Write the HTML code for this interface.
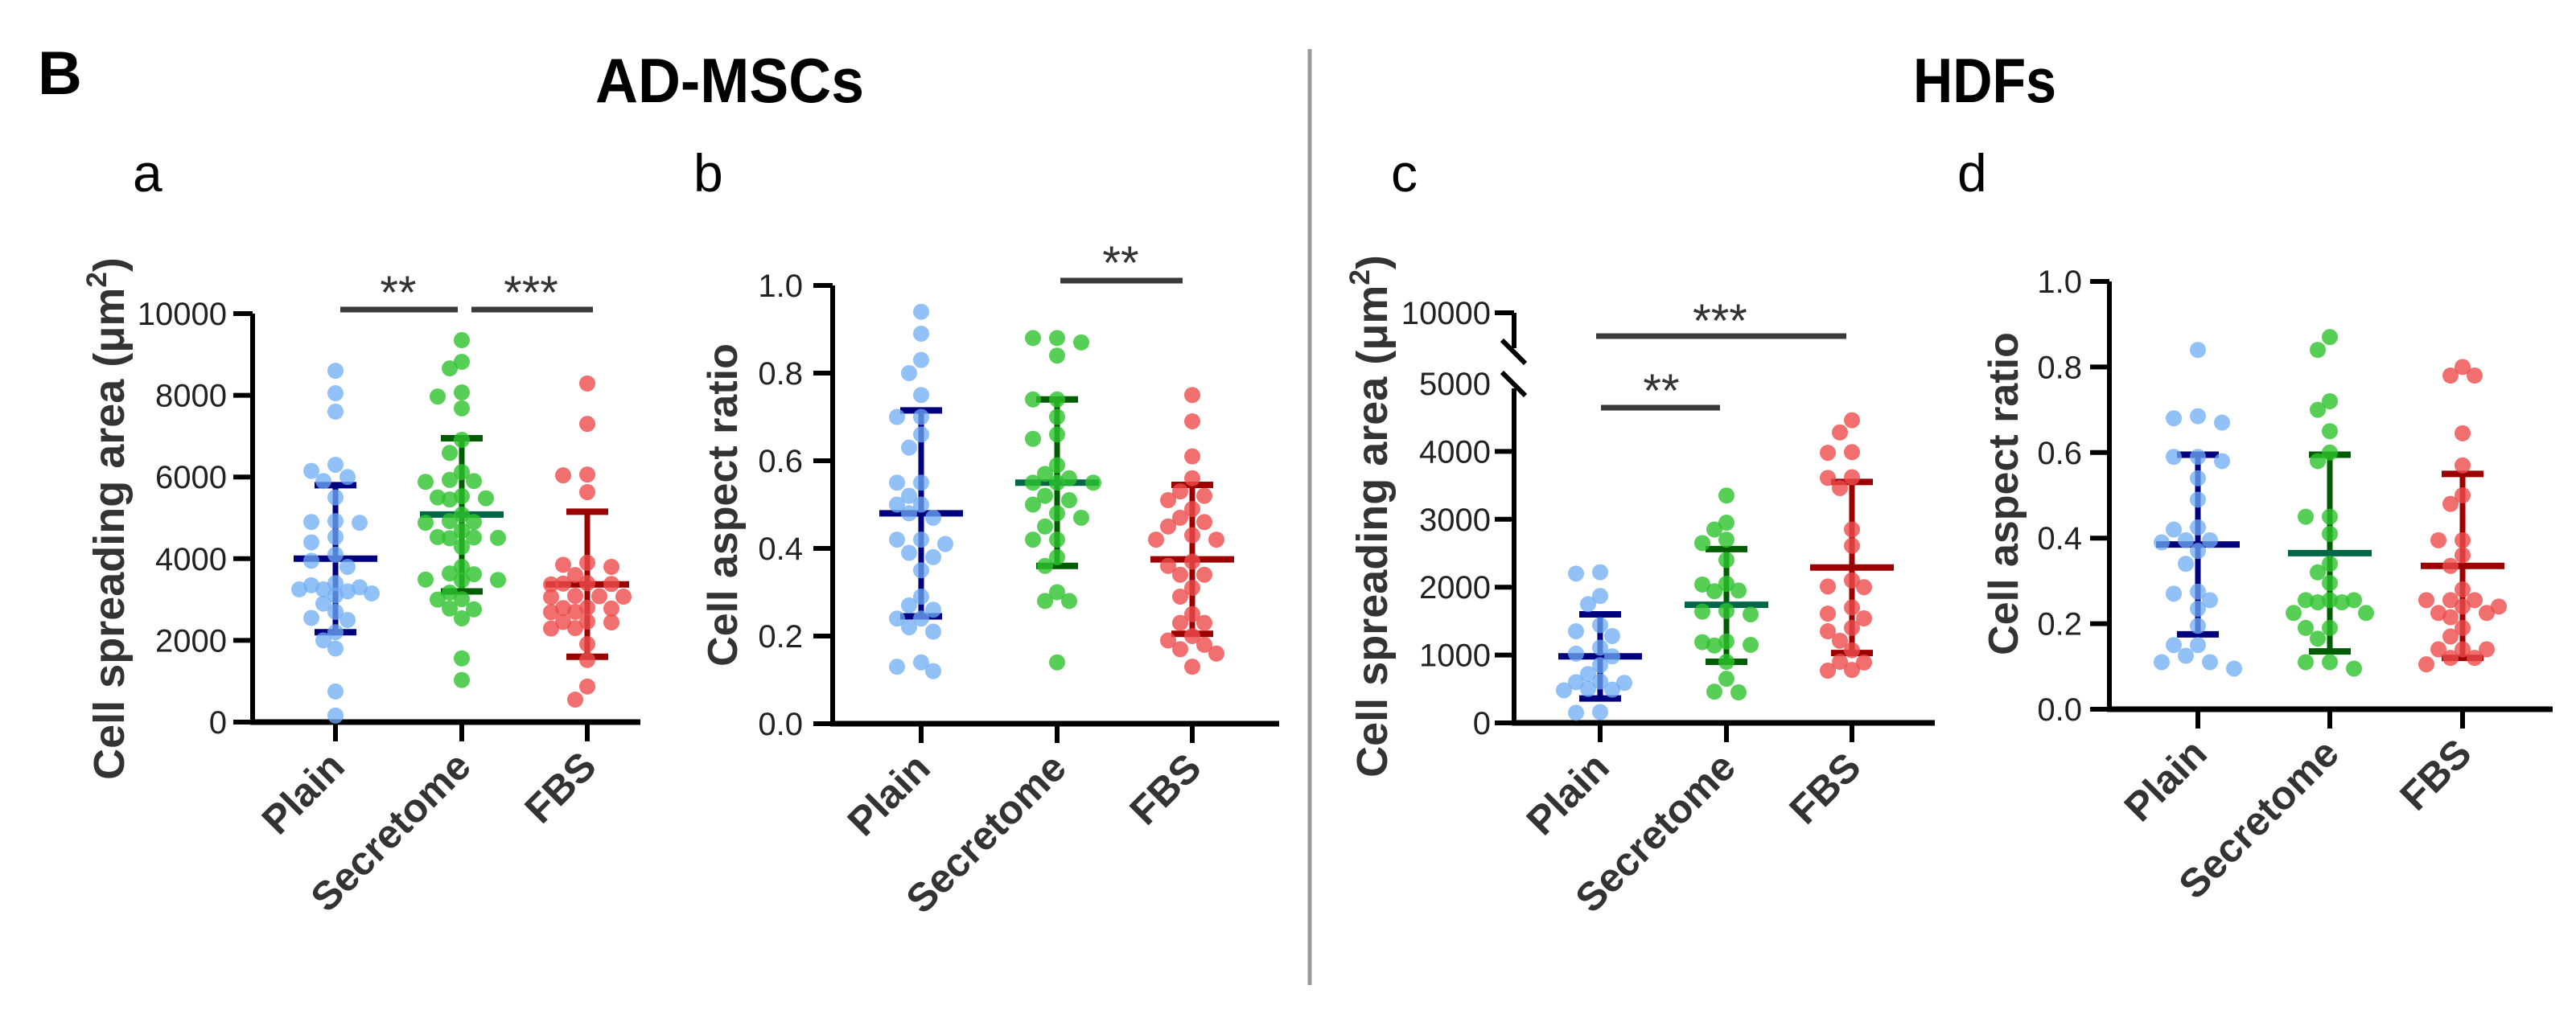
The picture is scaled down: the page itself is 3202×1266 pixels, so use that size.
<!DOCTYPE html>
<html><head><meta charset="utf-8">
<style>
html,body{margin:0;padding:0;background:#fff;}
svg{display:block;}
text{font-family:"Liberation Sans",Arial,sans-serif;}
.tick{font-family:"Liberation Sans Narrow","Liberation Sans",sans-serif;font-size:40px;fill:#222;}
</style></head>
<body>
<svg id="fig" width="3202" height="1266" viewBox="0 0 3202 1266" xmlns="http://www.w3.org/2000/svg">
<text x="47" y="117" font-size="76" font-weight="bold">B</text>
<text x="740" y="127" font-size="78" font-weight="bold" textLength="334" lengthAdjust="spacingAndGlyphs">AD-MSCs</text>
<text x="2378" y="127" font-size="78" font-weight="bold" textLength="178" lengthAdjust="spacingAndGlyphs">HDFs</text>
<line x1="1628" y1="61" x2="1628" y2="1225" stroke="#9a9a9a" stroke-width="5"/>
<text x="165" y="238" font-size="66">a</text>
<text x="862" y="238" font-size="66">b</text>
<text x="1729" y="238" font-size="66">c</text>
<text x="2433" y="238" font-size="66">d</text>
</svg>
<script>
// ---- data ----
const categories = ["Plain","Secretome","FBS"];
// Panel a: AD-MSCs spreading area
const aPlain = [8600,8050,7600,6300,6150,6000,5900,5500,4920,4900,4880,4530,4400,4100,3950,3800,3400,3350,3300,3250,3250,3200,3150,3100,2900,2700,2550,2500,2200,2000,1800,750,160];
const aSecretome = [9350,8820,8660,8070,7970,7680,6910,6590,6120,5930,5900,5880,5530,5500,5480,5450,5080,4920,4900,4880,4680,4530,4520,4510,4500,4290,3800,3640,3620,3490,3480,3470,3170,3010,3000,2780,2760,2540,1560,1030];
const aFBS = [8290,7300,6060,6040,5630,3900,3850,3800,3600,3400,3390,3380,3370,3090,3080,3070,3060,2800,2790,2780,2700,2690,2460,2450,2440,2300,2290,1910,1520,870,550];
const aMean = [4000,5080,3370];
const aUpper = [5800,6950,5150];
const aLower = [2200,3200,1600];
const aTicks = [0,2000,4000,6000,8000,10000];
// Panel b: AD-MSCs aspect ratio
const bPlain = [0.94,0.89,0.83,0.80,0.75,0.70,0.70,0.66,0.63,0.55,0.55,0.52,0.50,0.50,0.48,0.47,0.42,0.42,0.41,0.39,0.38,0.35,0.29,0.27,0.26,0.24,0.24,0.22,0.21,0.14,0.13,0.12];
const bSecretome = [0.88,0.88,0.87,0.84,0.74,0.74,0.70,0.66,0.65,0.59,0.57,0.56,0.55,0.55,0.55,0.52,0.51,0.50,0.48,0.47,0.45,0.42,0.42,0.38,0.36,0.30,0.28,0.28,0.14];
const bFBS = [0.75,0.69,0.61,0.56,0.53,0.52,0.51,0.49,0.47,0.46,0.45,0.43,0.42,0.42,0.37,0.36,0.34,0.34,0.31,0.29,0.25,0.23,0.23,0.20,0.19,0.18,0.17,0.16,0.13];
const bMean = [0.48,0.55,0.375];
const bUpper = [0.715,0.74,0.545];
const bLower = [0.245,0.36,0.205];
const bTicks = [0,0.2,0.4,0.6,0.8,1.0];
// Panel c: HDFs spreading area
const cPlain = [2220,2200,1870,1750,1440,1350,1280,1110,1020,980,850,720,610,600,590,500,490,480,160,150];
const cSecretome = [3350,2950,2850,2700,2650,2400,2050,2040,1950,1940,1650,1640,1600,1200,1190,1150,1140,900,650,460,450];
const cFBS = [4460,4280,3990,3980,3620,3610,3460,2850,2610,2100,2010,2000,1700,1610,1540,1400,1350,1210,1070,900,890,780,770];
const cMean = [980,1740,2290];
const cUpper = [1600,2560,3550];
const cLower = [360,900,1030];
const cTicks = [0,1000,2000,3000,4000,5000,10000];
// Panel d: HDFs aspect ratio
const dPlain = [0.84,0.685,0.68,0.67,0.59,0.59,0.58,0.54,0.49,0.425,0.42,0.395,0.395,0.39,0.37,0.34,0.275,0.27,0.255,0.235,0.195,0.15,0.15,0.125,0.11,0.11,0.095];
const dSecretome = [0.87,0.84,0.72,0.70,0.65,0.60,0.58,0.45,0.45,0.41,0.34,0.32,0.295,0.255,0.255,0.255,0.25,0.25,0.225,0.225,0.19,0.19,0.165,0.11,0.11,0.095];
const dFBS = [0.80,0.78,0.78,0.645,0.57,0.50,0.48,0.395,0.395,0.36,0.335,0.28,0.255,0.255,0.255,0.24,0.24,0.225,0.225,0.215,0.19,0.17,0.14,0.14,0.14,0.12,0.12,0.105];
const dMean = [0.385,0.365,0.335];
const dUpper = [0.595,0.595,0.55];
const dLower = [0.175,0.135,0.12];
const dTicks = [0,0.2,0.4,0.6,0.8,1.0];

// ---- rendering ----
const NS = "http://www.w3.org/2000/svg";
const svg = document.getElementById("fig");
function mk(tag, attrs, parent){
  const e = document.createElementNS(NS, tag);
  for (const k in attrs) e.setAttribute(k, attrs[k]);
  (parent||svg).appendChild(e);
  return e;
}
const dotFill = ["rgba(110,172,245,0.75)","rgba(45,195,45,0.8)","rgba(238,75,75,0.8)"];
const barCol = ["#00007e","#005c00","#9c0000"];
const meanCol = ["#00007e","#006648","#9c0000"];

function linScale(d0,d1,r0,r1){ return v => r0 + (v-d0)/(d1-d0)*(r1-r0); }

function panel(p){
  const g = mk("g",{});
  
  
  const y = p.y;
  if (p.broken){
    const l1 = mk("line",{x1:p.ax,y1:p.axisTop,x2:p.ax,y2:433,stroke:"#000","stroke-width":6},g);
    
    
    const l2 = mk("line",{x1:p.ax,y1:483,x2:p.ax,y2:p.axisY+3,stroke:"#000","stroke-width":6},g);
    
    
    [[423,452],[463,492]].forEach(s=>{
      const sl = mk("line",{x1:p.ax-15,y1:s[0],x2:p.ax+14,y2:s[1],stroke:"#000","stroke-width":6},g);
      
      
    });
  } else {
    const l = mk("line",{x1:p.ax,y1:p.axisTop,x2:p.ax,y2:p.axisY+3,stroke:"#000","stroke-width":6},g);
    
    
  }
  p.ticks.forEach(t=>{
    const ty = y(t);
    if (!(p.broken && t===5000)){
      const tk = mk("line",{x1:p.ax-24,y1:ty,x2:p.ax,y2:ty,stroke:"#000","stroke-width":6},g);
      
      
    }
    const lb = mk("text",{x:p.labelX,y:ty+14,"text-anchor":"end",class:"tick"},g);
    lb.textContent = p.fmt(t);
    
    
  });
  const xa = mk("line",{x1:p.ax-3,y1:p.axisY,x2:p.axEnd,y2:p.axisY,stroke:"#000","stroke-width":7},g);
  
  
  categories.forEach((c,i)=>{
    const cx = p.cx[i];
    const tk = mk("line",{x1:cx,y1:p.axisY,x2:cx,y2:p.axisY+24,stroke:"#000","stroke-width":6},g);
    
    
    const ax = cx+14, ay = p.axisY+58;
    const t = mk("text",{x:ax,y:ay,"text-anchor":"end","font-size":50,"font-weight":"bold",fill:"#333",transform:`rotate(-45 ${ax} ${ay})`},g);
    t.textContent = c;
    
    
  });
  const tt = mk("text",{x:0,y:0,"text-anchor":"middle","font-size":p.titleSize,"font-weight":"bold",fill:"#333",transform:`translate(${p.titleX} ${p.titleY}) rotate(-90)`},g);
  if (p.area){
    tt.appendChild(document.createTextNode("Cell spreading area (μm"));
    const sup = mk("tspan",{"font-size":p.titleSize*0.65,dy:-22},tt);
    sup.textContent = "2";
    const cl = mk("tspan",{dy:22},tt);
    cl.textContent = ")";
  } else {
    tt.textContent = "Cell aspect ratio";
  }
  
  
  categories.forEach((c,i)=>{
    const cx = p.cx[i];
    const v = mk("line",{x1:cx,y1:y(p.upper[i]),x2:cx,y2:y(p.lower[i]),stroke:barCol[i],"stroke-width":7},g);
    
    
    [p.upper[i],p.lower[i]].forEach(val=>{
      const cap = mk("line",{x1:cx-26,y1:y(val),x2:cx+26,y2:y(val),stroke:barCol[i],"stroke-width":8},g);
      
      
    });
    const m = mk("line",{x1:cx-52,y1:y(p.mean[i]),x2:cx+52,y2:y(p.mean[i]),stroke:meanCol[i],"stroke-width":8},g);
    
    
  });
  const cands = [0,-15,15,-30,30,-45,45];
  p.series.forEach((vals,i)=>{
    const placed = [];
    const sorted = vals.slice().sort((a,b)=>b-a);
    sorted.forEach(v=>{
      const py = y(v);
      let best = 0, bestD = -1;
      for (const cand of cands){
        let md = Infinity;
        placed.forEach(q=>{ md = Math.min(md, Math.hypot(q[0]-cand,q[1]-py)); });
        if (md >= 17){ best = cand; bestD = Infinity; break; }
        if (md > bestD){ bestD = md; best = cand; }
      }
      placed.push([best,py]);
      const d = mk("circle",{cx:p.cx[i]+best,cy:py,r:10,fill:dotFill[i]},g);
      
      
    });
  });
  p.sig.forEach(s=>{
    const l = mk("line",{x1:s[0],y1:s[2],x2:s[1],y2:s[2],stroke:"#3a3a3a","stroke-width":7},g);
    
    
    const t = mk("text",{x:s[4],y:s[5]+34,"text-anchor":"middle","font-size":58,fill:"#333"},g);
    t.textContent = s[3];
    
    
  });
}

const fmtInt = v=>String(v);
const fmt1 = v=>v.toFixed(1);

panel({id:"panel-a", y:linScale(0,10000,898,390), ax:314, axisTop:390, axisY:898, axEnd:796, labelX:282,
  ticks:aTicks, fmt:fmtInt, cx:[417,574,730], titleX:154, titleY:645, titleSize:54, area:true,
  series:[aPlain,aSecretome,aFBS], mean:aMean, upper:aUpper, lower:aLower,
  sig:[[423,569,385,"**",495,350],[586,737,385,"***",660,350]]});

panel({id:"panel-b", y:linScale(0,1,900,355), ax:1035, axisTop:355, axisY:900, axEnd:1590, labelX:998,
  ticks:bTicks, fmt:fmt1, cx:[1145,1314,1482], titleX:916, titleY:628, titleSize:52, area:false,
  series:[bPlain,bSecretome,bFBS], mean:bMean, upper:bUpper, lower:bLower,
  sig:[[1318,1470,349,"**",1393,313]]});

const cLow = linScale(0,5000,899,477);
const cY = v => v<=5000 ? cLow(v) : 389;
panel({id:"panel-c", y:cY, ax:1882, axisTop:389, axisY:899, axEnd:2405, labelX:1853, broken:true,
  ticks:cTicks, fmt:fmtInt, cx:[1989,2146,2302], titleX:1724, titleY:642, titleSize:54, area:true,
  series:[cPlain,cSecretome,cFBS], mean:cMean, upper:cUpper, lower:cLower,
  sig:[[1984,2295,418,"***",2138,385],[1990,2138,507,"**",2065,472]]});

panel({id:"panel-d", y:linScale(0,1,882,350), ax:2622, axisTop:350, axisY:882, axEnd:3173, labelX:2588,
  ticks:dTicks, fmt:fmt1, cx:[2732,2896,3061], titleX:2508, titleY:614, titleSize:52, area:false,
  series:[dPlain,dSecretome,dFBS], mean:dMean, upper:dUpper, lower:dLower,
  sig:[]});
</script>
</body></html>
